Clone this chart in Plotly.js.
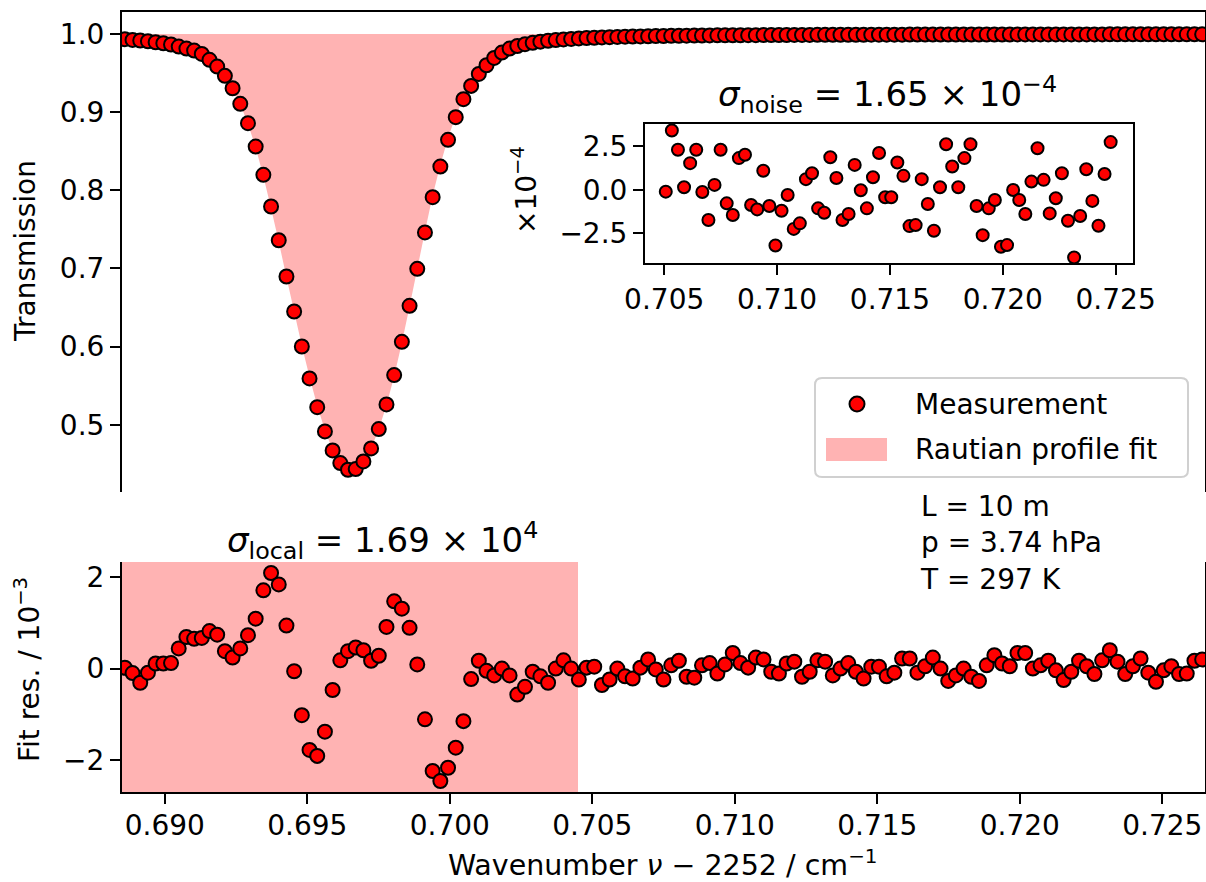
<!DOCTYPE html>
<html>
<head>
<meta charset="utf-8">
<script src="https://cdn.plot.ly/plotly-3.0.1.min.js"></script>
<style>html,body{margin:0;padding:0;background:#fff;}#chart{width:1206px;height:882px;}</style>
</head>
<body>
<div id="chart"></div>
<script>
// Wavenumber (nu - 2252) / cm^-1
const wavenumber = [
0.68860,0.68887,0.68914,0.68941,0.68968,0.68995,0.69022,0.69049,0.69076,0.69103,0.69130,0.69157,0.69184,0.69211,0.69238,0.69265,0.69292,0.69319,0.69346,0.69373,
0.69400,0.69427,0.69454,0.69481,0.69508,0.69535,0.69562,0.69589,0.69616,0.69643,0.69670,0.69697,0.69724,0.69751,0.69778,0.69805,0.69832,0.69859,0.69886,0.69913,
0.69940,0.69967,0.69994,0.70021,0.70048,0.70075,0.70102,0.70129,0.70156,0.70183,0.70210,0.70237,0.70264,0.70291,0.70318,0.70345,0.70372,0.70399,0.70426,0.70453,
0.70480,0.70507,0.70534,0.70561,0.70588,0.70615,0.70642,0.70669,0.70696,0.70723,0.70750,0.70777,0.70804,0.70831,0.70858,0.70885,0.70912,0.70939,0.70966,0.70993,
0.71020,0.71047,0.71074,0.71101,0.71128,0.71155,0.71182,0.71209,0.71236,0.71263,0.71290,0.71317,0.71344,0.71371,0.71398,0.71425,0.71452,0.71479,0.71506,0.71533,
0.71560,0.71587,0.71614,0.71641,0.71668,0.71695,0.71722,0.71749,0.71776,0.71803,0.71830,0.71857,0.71884,0.71911,0.71938,0.71965,0.71992,0.72019,0.72046,0.72073,
0.72100,0.72127,0.72154,0.72181,0.72208,0.72235,0.72262,0.72289,0.72316,0.72343,0.72370,0.72397,0.72424,0.72451,0.72478,0.72505,0.72532,0.72559,0.72586,0.72613,
0.72640];

// Measured transmission
const transmission = [
0.9932,0.9923,0.9915,0.9906,0.9893,0.9880,0.9864,0.9838,0.9812,0.9787,0.9744,0.9668,0.9582,0.9463,0.9305,0.9105,0.8858,0.8559,0.8197,0.7792,
0.7360,0.6897,0.6449,0.6001,0.5593,0.5225,0.4915,0.4672,0.4510,0.4425,0.4433,0.4531,0.4697,0.4945,0.5260,0.5636,0.6061,0.6522,0.6995,0.7460,
0.7911,0.8303,0.8645,0.8935,0.9165,0.9335,0.9488,0.9599,0.9693,0.9761,0.9812,0.9845,0.9868,0.9886,0.9900,0.9912,0.9921,0.9929,0.9936,0.9942,
0.9947,0.9951,0.9955,0.9958,0.9961,0.9964,0.9966,0.9968,0.9970,0.9972,0.9973,0.9975,0.9976,0.9977,0.9978,0.9979,0.9980,0.9981,0.9982,0.9982,
0.9983,0.9984,0.9984,0.9985,0.9985,0.9986,0.9986,0.9987,0.9987,0.9987,0.9988,0.9988,0.9988,0.9989,0.9989,0.9989,0.9989,0.9990,0.9990,0.9990,
0.9990,0.9990,0.9991,0.9991,0.9991,0.9991,0.9991,0.9991,0.9992,0.9992,0.9992,0.9992,0.9992,0.9992,0.9992,0.9992,0.9993,0.9993,0.9993,0.9993,
0.9993,0.9993,0.9993,0.9993,0.9993,0.9993,0.9993,0.9993,0.9994,0.9994,0.9994,0.9994,0.9994,0.9994,0.9994,0.9994,0.9994,0.9994,0.9994,0.9994,
0.9994];

// Fit residuals / 1e-3
const residual = [
0.02,-0.10,-0.31,-0.09,0.11,0.11,0.12,0.44,0.69,0.65,0.67,0.82,0.74,0.38,0.24,0.44,0.73,1.09,1.71,2.09,
1.84,0.94,-0.06,-1.02,-1.78,-1.91,-1.38,-0.47,0.18,0.38,0.46,0.40,0.17,0.28,0.91,1.47,1.31,0.89,0.09,-1.11,
-2.24,-2.46,-2.17,-1.73,-1.15,-0.23,0.17,-0.05,-0.15,0.00,-0.15,-0.57,-0.40,-0.07,-0.17,-0.31,0.00,0.18,0.00,-0.24,
0.02,0.04,-0.36,-0.24,0.00,-0.17,-0.22,0.02,0.20,-0.02,-0.24,0.07,0.17,-0.18,-0.20,0.07,0.12,-0.11,0.09,0.34,
0.12,0.02,0.24,0.20,-0.07,-0.11,0.11,0.15,-0.18,-0.07,0.18,0.15,-0.15,0.00,0.12,-0.07,-0.22,0.04,0.04,-0.17,
-0.09,0.22,0.22,-0.09,0.05,0.24,0.00,-0.27,-0.15,0.00,-0.18,-0.27,0.07,0.29,0.11,0.05,0.34,0.34,0.00,0.07,
0.17,-0.04,-0.25,-0.07,0.17,0.05,-0.12,0.18,0.40,0.15,-0.12,0.05,0.22,-0.09,-0.29,-0.04,0.05,-0.12,-0.11,0.17,
0.20];

// Baseline noise (inset) / 1e-4, sampled on wavenumber[61..134]
const noise = [
-0.10,3.42,2.31,0.15,1.54,2.31,-0.12,-1.73,0.29,2.31,
-0.77,-1.44,1.83,2.02,-0.87,-1.12,1.10,-0.92,-3.19,-1.20,
-0.29,-2.24,-1.92,0.62,0.96,-1.06,-1.31,1.88,0.69,-1.73,
-1.38,1.44,-0.02,-1.06,0.73,2.12,-0.42,-0.42,1.58,0.81,
-2.08,-2.02,0.62,-0.81,-2.35,0.15,2.63,1.35,0.15,1.83,
2.63,-0.92,-2.60,-1.06,-0.58,-3.27,-3.17,0.00,-0.58,-1.38,
0.48,2.40,0.58,-1.35,-0.48,0.96,-1.77,-3.88,-1.50,1.19,
-0.63,-2.06,0.92,2.75];
const noiseStart = 61;

const xTicks = [0.690,0.695,0.700,0.705,0.710,0.715,0.720,0.725];
const tTicks = [0.5,0.6,0.7,0.8,0.9,1.0];
const resTicks = [-2,0,2];
const insetXTicks = [0.705,0.710,0.715,0.720,0.725];
const insetYTicks = [-2.5,0.0,2.5];
const localRegionEnd = 0.7045;
const xRange = [0.6885, 0.7265];
const legendLabels = ['Measurement', 'Rautian profile fit'];

const noiseX = wavenumber.slice(noiseStart, noiseStart + noise.length);
const fitT = transmission.map((t, i) => t - residual[i] * 1e-3);
const unity = wavenumber.map(() => 1.0);

const FONT = 'DejaVu Sans';
const PINK = '#ffb3b3';
const RED = '#ff0000';
const mk = (s) => ({color: RED, size: s, line: {color: '#000', width: 2}});

const traces = [
  {x: wavenumber, y: unity, xaxis: 'x', yaxis: 'y', mode: 'lines', line: {width: 0, color: PINK}, showlegend: false, hoverinfo: 'skip'},
  {x: wavenumber, y: fitT, xaxis: 'x', yaxis: 'y', mode: 'none', fill: 'tonexty', fillcolor: PINK,
   name: legendLabels[1], showlegend: false},
  {x: wavenumber, y: transmission, xaxis: 'x', yaxis: 'y', mode: 'markers', marker: mk(14),
   name: legendLabels[0], showlegend: false},
  {x: wavenumber, y: residual, xaxis: 'x2', yaxis: 'y2', mode: 'markers', marker: mk(14), showlegend: false},
  {x: noiseX, y: noise, xaxis: 'x3', yaxis: 'y3', mode: 'markers', marker: mk(12), showlegend: false}
];

const axBase = {showgrid: false, zeroline: false, showline: true, linecolor: '#000', linewidth: 2,
  tickcolor: '#000', tickwidth: 2, ticklen: 10, tickfont: {family: FONT, size: 28, color: '#000'}};

const PL = 122, PR = 1205, PT = 12, PB = 792;
const W = PR - PL, Hh = PB - PT;
const px = (x) => (x - PL) / W;
const py = (y) => (PB - y) / Hh;

// legend frame (rounded) in paper coordinates
function roundRect(x0, y0, x1, y1, r) {
  const X0 = px(x0), X1 = px(x1), Y0 = py(y0), Y1 = py(y1);
  const rx = r / W, ry = r / Hh;
  return `M${X0 + rx},${Y0} L${X1 - rx},${Y0} Q${X1},${Y0} ${X1},${Y0 - ry} L${X1},${Y1 + ry} Q${X1},${Y1} ${X1 - rx},${Y1} ` +
         `L${X0 + rx},${Y1} Q${X0},${Y1} ${X0},${Y1 + ry} L${X0},${Y0 - ry} Q${X0},${Y0} ${X0 + rx},${Y0} Z`;
}

const layout = {
  width: 1206, height: 882,
  margin: {l: PL, r: 1206 - PR, t: PT, b: 882 - PB},
  paper_bgcolor: '#fff', plot_bgcolor: 'rgba(0,0,0,0)',
  font: {family: FONT, size: 28, color: '#000'},
  showlegend: false,
  xaxis: Object.assign({}, axBase, {domain: [0, 1], anchor: 'y', range: xRange, side: 'top',
    showticklabels: false, ticks: ''}),
  yaxis: Object.assign({}, axBase, {domain: [py(492), 1], anchor: 'x', range: [0.414, 1.028],
    mirror: true, ticks: 'outside', tickvals: tTicks, tickformat: '.1f'}),
  xaxis2: Object.assign({}, axBase, {domain: [0, 1], anchor: 'y2', range: xRange, side: 'bottom',
    ticks: 'outside', tickvals: xTicks, tickformat: '.3f', ticklabelstandoff: -3}),
  yaxis2: Object.assign({}, axBase, {domain: [0, py(562)], anchor: 'x2', range: [-2.70, 2.33],
    mirror: true, ticks: 'outside', tickvals: resTicks, tickformat: 'd'}),
  xaxis3: Object.assign({}, axBase, {domain: [px(645), px(1133)], anchor: 'y3', range: [0.70415, 0.72577],
    mirror: true, ticks: 'outside', tickvals: insetXTicks, tickformat: '.3f'}),
  yaxis3: Object.assign({}, axBase, {domain: [py(263), py(124)], anchor: 'x3', range: [-4.20, 3.79],
    mirror: true, ticks: 'outside', tickvals: insetYTicks, tickformat: '.1f'}),
  shapes: [
    {type: 'rect', xref: 'x2', yref: 'y2 domain', x0: xRange[0], x1: localRegionEnd, y0: 0, y1: 1,
     fillcolor: PINK, line: {width: 0}, layer: 'below'},
    // legend
    {type: 'path', xref: 'paper', yref: 'paper', path: roundRect(815, 378, 1188, 477, 7),
     fillcolor: 'rgba(255,255,255,0.85)', line: {color: '#d0d0d0', width: 2}, layer: 'above'},
    {type: 'circle', xref: 'paper', yref: 'paper', x0: px(849.5), x1: px(864.5), y0: py(411.5), y1: py(396.5),
     fillcolor: RED, line: {color: '#000', width: 2}, layer: 'above'},
    {type: 'rect', xref: 'paper', yref: 'paper', x0: px(826), x1: px(887), y0: py(461), y1: py(438),
     fillcolor: PINK, line: {width: 0}, layer: 'above'}
  ],
  annotations: [
    {xref: 'paper', yref: 'paper', x: px(913), y: py(404), text: legendLabels[0],
     showarrow: false, xanchor: 'left', yanchor: 'middle', font: {size: 28}},
    {xref: 'paper', yref: 'paper', x: px(913), y: py(449), text: legendLabels[1],
     showarrow: false, xanchor: 'left', yanchor: 'middle', font: {size: 28}},
    {xref: 'paper', yref: 'paper', x: px(25), y: py(251), text: 'Transmission', textangle: -90,
     showarrow: false, xanchor: 'center', yanchor: 'middle', font: {size: 28}},
    {xref: 'paper', yref: 'paper', x: px(27), y: py(670), text: 'Fit res. / 10<sup>−3</sup>', textangle: -90,
     showarrow: false, xanchor: 'center', yanchor: 'middle', font: {size: 28}},
    {xref: 'paper', yref: 'paper', x: px(663), y: py(863), text: 'Wavenumber <i>ν</i> − 2252 / cm<sup>−1</sup>',
     showarrow: false, xanchor: 'center', yanchor: 'middle', font: {size: 28.5}},
    {xref: 'paper', yref: 'paper', x: px(887), y: py(95), text: '<i>σ</i><sub>noise</sub> = 1.65 × 10<sup>−4</sup>',
     showarrow: false, xanchor: 'center', yanchor: 'middle', font: {size: 34}},
    {xref: 'paper', yref: 'paper', x: px(382), y: py(540), text: '<i>σ</i><sub>local</sub> = 1.69 × 10<sup>4</sup>',
     showarrow: false, xanchor: 'center', yanchor: 'middle', font: {size: 34}},
    {xref: 'paper', yref: 'paper', x: px(525), y: py(190), text: '×10<sup>−4</sup>', textangle: -90,
     showarrow: false, xanchor: 'center', yanchor: 'middle', font: {size: 28}},
    {xref: 'paper', yref: 'paper', x: px(918), y: py(543), text: 'L = 10 m<br>p = 3.74 hPa<br>T = 297 K',
     align: 'left', showarrow: false, xanchor: 'left', yanchor: 'middle', font: {size: 28}}
  ]
};

Plotly.newPlot('chart', traces, layout, {staticPlot: true, displayModeBar: false});
</script>
</body>
</html>
